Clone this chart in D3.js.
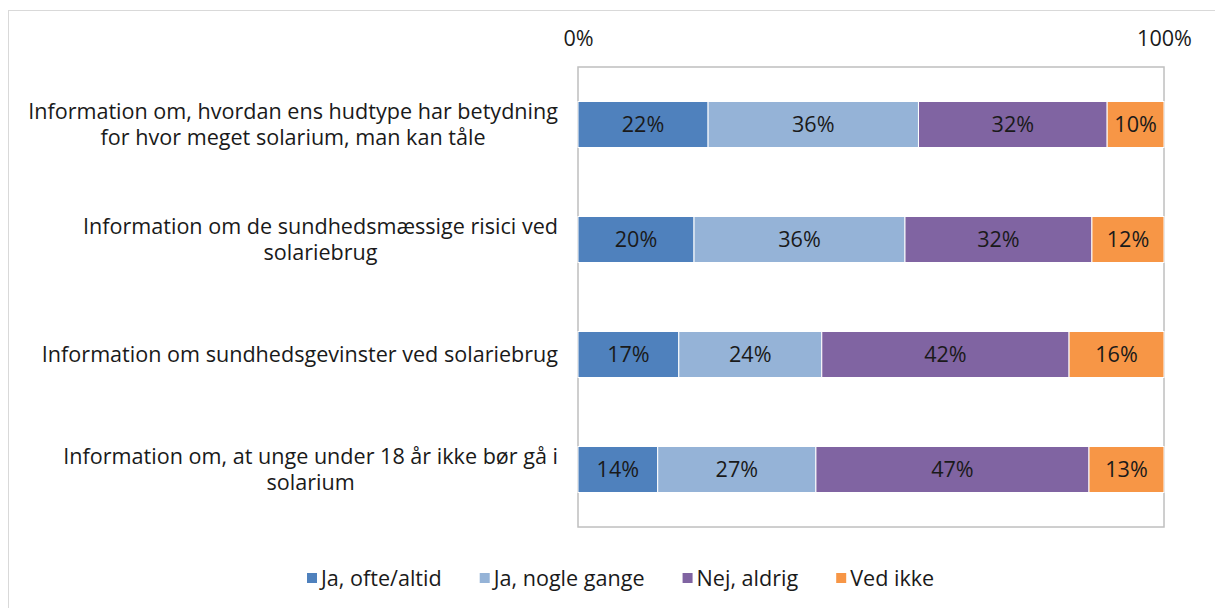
<!DOCTYPE html>
<html lang="da">
  <head>
    <meta charset="utf-8">
    <title>Solarium information</title>
    <style>
      body { margin: 0; background: #fff; }
      svg text { font-family: "Open Sans", "Noto Sans", sans-serif; fill: #1a1a1a; }
    </style>
  </head>
  <body>
    <svg id="chart" width="1215" height="608"></svg>
  </body>
  <script src="https://cdn.jsdelivr.net/npm/d3@7"></script>
  <script type="text/javascript">

    // data (shares in %, labels rounded)
    var categories = [
      ["Information om, hvordan ens hudtype har betydning", "for hvor meget solarium, man kan tåle"],
      ["Information om de sundhedsmæssige risici ved", "solariebrug"],
      ["Information om sundhedsgevinster ved solariebrug"],
      ["Information om, at unge under 18 år ikke bør gå i", "solarium"]
    ];
    var seriesNames = ["Ja, ofte/altid", "Ja, nogle gange", "Nej, aldrig", "Ved ikke"];
    var seriesColors = ["#4f81bd", "#95b3d7", "#8064a2", "#f79646"];
    var jaOfte    = [22.2, 19.8, 17.2, 13.6];
    var jaNogle   = [35.9, 36.0, 24.4, 27.0];
    var nejAldrig = [32.2, 31.9, 42.2, 46.6];
    var vedIkke   = [9.7, 12.3, 16.2, 12.8];
    var tickLabels = [0, 100];

    var svg = d3.select("#chart");
    var plotL = 578, plotR = 1164, plotT = 67, plotB = 527;

    // pick a font size so the first label line is as wide as in the reference (~530px)
    var probe = svg.append("text").attr("font-size", 20).text(categories[0][0]);
    var fs = 20 * 530 / probe.node().getComputedTextLength();
    probe.remove();

    // outer chart border (cut at the right edge like the reference)
    svg.append("rect").attr("x", 8.5).attr("y", 10.5).attr("width", 1230).attr("height", 640)
      .attr("fill", "none").attr("stroke", "#d9d9d9");

    var rows = categories.map(function(c, i) {
      return { name: i, lines: c, vals: [jaOfte[i], jaNogle[i], nejAldrig[i], vedIkke[i]] };
    });

    var x = d3.scaleLinear().domain([0, 100]).range([plotL, plotR]);
    var y = d3.scaleBand().domain(d3.range(categories.length)).range([plotT, plotB]).paddingInner(0.6).paddingOuter(0.3);

    // plot area frame
    svg.append("rect").attr("x", plotL).attr("y", plotT)
      .attr("width", plotR - plotL).attr("height", plotB - plotT)
      .attr("fill", "none").attr("stroke", "#bfbfbf").attr("stroke-width", 1.5);

    // top axis labels
    var axis = d3.axisTop(x).tickValues(tickLabels).tickFormat(function(d) { return d + "%"; }).tickSize(0);
    var ax = svg.append("g").attr("transform", "translate(0,49)").call(axis);
    ax.select(".domain").remove();
    ax.selectAll("text").attr("font-size", fs).attr("fill", "#1a1a1a")
      .style("font-family", "'Open Sans', 'Noto Sans', sans-serif");

    var stack = d3.stack().keys([0, 1, 2, 3]).value(function(d, k) { return d.vals[k]; });
    var layers = stack(rows);

    var g = svg.append("g");
    layers.forEach(function(layer, k) {
      g.selectAll(".s" + k).data(layer).enter().append("rect")
        .attr("x", function(d) { return x(d[0]); })
        .attr("y", function(d) { return y(d.data.name); })
        .attr("width", function(d) { return x(d[1]) - x(d[0]); })
        .attr("height", y.bandwidth())
        .attr("fill", seriesColors[k])
        .attr("stroke", "#fff").attr("stroke-width", 1);
      g.selectAll(".t" + k).data(layer).enter().append("text")
        .attr("x", function(d) { return (x(d[0]) + x(d[1])) / 2; })
        .attr("y", function(d) { return y(d.data.name) + y.bandwidth() / 2; })
        .attr("dy", "0.35em").attr("text-anchor", "middle").attr("font-size", fs)
        .text(function(d) { return Math.round(d[1] - d[0]) + "%"; });
    });

    // category labels: lines centred on each other, block right-aligned at 558
    rows.forEach(function(r) {
      var cy = y(r.name) + y.bandwidth() / 2;
      var lh = 26;
      var t = svg.append("g");
      var texts = r.lines.map(function(line, j) {
        return t.append("text").attr("font-size", fs).attr("dy", "0.35em")
          .attr("y", cy + (j - (r.lines.length - 1) / 2) * lh)
          .attr("text-anchor", "middle").text(line);
      });
      var w = d3.max(texts, function(s) { return s.node().getComputedTextLength(); });
      texts.forEach(function(s) { s.attr("x", 558 - w / 2); });
    });

    // legend
    var lx = 307;
    seriesNames.forEach(function(n, k) {
      svg.append("rect").attr("x", lx).attr("y", 573).attr("width", 10).attr("height", 10).attr("fill", seriesColors[k]);
      var tx = svg.append("text").attr("x", lx + 14).attr("y", 578).attr("dy", "0.35em")
        .attr("font-size", fs).text(n);
      lx += 14 + tx.node().getComputedTextLength() + 38;
    });

  </script>
</html>
